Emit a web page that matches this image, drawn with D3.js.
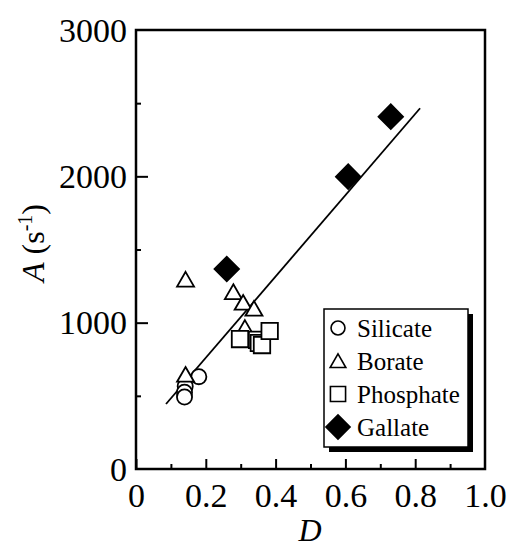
<!DOCTYPE html>
<html>
<head>
<meta charset="utf-8">
<script src="https://cdn.jsdelivr.net/npm/d3@7"></script>
<style>
  body { margin: 0; background: #fff; }
  svg { display: block; }
</style>
</head>
<body>
<div id="chart"></div>
<script>
// values: [D, A]
const silicate = [[0.18, 631], [0.141, 565], [0.139, 525], [0.139, 492]];
const borate = [[0.142, 1280], [0.279, 1195], [0.307, 1122], [0.338, 1081], [0.312, 950], [0.142, 630]];
const phosphate = [[0.298, 888], [0.347, 882], [0.352, 861], [0.361, 847], [0.383, 943]];
const gallate = [[0.26, 1367], [0.608, 1998], [0.73, 2408]];
const fitLine = [[0.086, 444], [0.814, 2465]];

const xTicks = [0, 0.2, 0.4, 0.6, 0.8, 1.0];
const xMinor = [0.1, 0.3, 0.5, 0.7, 0.9];
const yTicks = [0, 1000, 2000, 3000];
const yMinor = [500, 1500, 2500];
const legendNames = ["Silicate", "Borate", "Phosphate", "Gallate"];

const W = 509, H = 547;
const mLeft = 136, mRight = 485, mTop = 30, mBottom = 469;
const serif = "'Liberation Serif', 'DejaVu Serif', 'Times New Roman', Times, serif";

const svg = d3.select("#chart").append("svg")
  .attr("width", W)
  .attr("height", H)
  .style("font-family", serif);

const x = d3.scaleLinear().domain([0, 1]).range([mLeft, mRight]);
const y = d3.scaleLinear().domain([0, 3000]).range([mBottom, mTop]);

// axes (ticks pointing inward)
const gx = svg.append("g").attr("transform", `translate(0,${mBottom})`)
  .call(d3.axisBottom(x).tickValues(xTicks).tickSize(-10).tickPadding(14)
    .tickFormat(d => d === 0 ? "0" : d3.format(".1f")(d)));
svg.append("g").attr("transform", `translate(0,${mBottom})`)
  .call(d3.axisBottom(x).tickValues(xMinor).tickSize(-5).tickFormat(""));
const gy = svg.append("g").attr("transform", `translate(${mLeft},0)`)
  .call(d3.axisLeft(y).tickValues(yTicks).tickSize(-12).tickPadding(9).tickFormat(d3.format("d")));
svg.append("g").attr("transform", `translate(${mLeft},0)`)
  .call(d3.axisLeft(y).tickValues(yMinor).tickSize(-5).tickFormat(""));

svg.selectAll("g").attr("font-family", null).attr("font-size", null);
svg.selectAll(".domain").remove();
svg.selectAll(".tick line").attr("stroke", "#000").attr("stroke-width", 2);
svg.selectAll(".tick text").style("font-size", "34px").style("font-family", serif).attr("fill", "#000");
gx.selectAll(".tick text").attr("dy", "0.71em");
gy.selectAll(".tick text").attr("dy", "0.33em");
gx.selectAll(".tick").filter(d => d === 1).select("line").remove();
gy.selectAll(".tick").filter(d => d === 3000 || d === 0).select("line").remove();

// frame
svg.append("rect")
  .attr("x", mLeft).attr("y", mTop)
  .attr("width", mRight - mLeft).attr("height", mBottom - mTop)
  .attr("fill", "none").attr("stroke", "#000").attr("stroke-width", 2.5);

// axis titles
svg.append("text")
  .attr("x", 310).attr("y", 541)
  .attr("text-anchor", "middle")
  .style("font-family", serif).style("font-size", "32px").style("font-style", "italic")
  .text("D");

const yl = svg.append("text")
  .attr("transform", "translate(44,243) rotate(-90)")
  .attr("text-anchor", "middle")
  .style("font-family", serif).style("font-size", "32px");
yl.append("tspan").style("font-style", "italic").text("A");
yl.append("tspan").text(" (s");
yl.append("tspan").style("font-size", "20px").attr("dy", -12).text("-1");
yl.append("tspan").attr("dy", 12).text(")");

// fit line
svg.append("path")
  .datum(fitLine)
  .attr("d", d3.line().x(d => x(d[0])).y(d => y(d[1])))
  .attr("fill", "none").attr("stroke", "#000").attr("stroke-width", 1.8);

// markers
const styles = {
  Silicate: { type: d3.symbolCircle, size: 180, fill: "#fff", rot: 0 },
  Borate: { type: d3.symbolTriangle, size: 125, fill: "#fff", rot: 0 },
  Phosphate: { type: d3.symbolSquare, size: 270, fill: "#fff", rot: 0 },
  Gallate: { type: d3.symbolSquare, size: 300, fill: "#000", rot: 45 }
};

function drawSeries(data, name) {
  const s = styles[name];
  svg.append("g").selectAll("path")
    .data(data)
    .join("path")
    .attr("d", d3.symbol().type(s.type).size(s.size))
    .attr("transform", d => `translate(${x(d[0])},${y(d[1])}) rotate(${s.rot})`)
    .attr("fill", s.fill)
    .attr("stroke", "#000")
    .attr("stroke-width", 1.8);
}
drawSeries(silicate, "Silicate");
drawSeries(borate, "Borate");
drawSeries(phosphate, "Phosphate");
drawSeries(gallate, "Gallate");

// legend with drop shadow
const lg = svg.append("g");
lg.append("rect").attr("x", 329).attr("y", 314).attr("width", 144).attr("height", 138).attr("fill", "#000");
lg.append("rect").attr("x", 324).attr("y", 309).attr("width", 144).attr("height", 138)
  .attr("fill", "#fff").attr("stroke", "#000").attr("stroke-width", 1.5);

legendNames.forEach((name, i) => {
  const s = styles[name];
  const cy = 328 + i * 33;
  const sz = name === "Gallate" ? 290 : s.size * 0.85;
  lg.append("path")
    .attr("d", d3.symbol().type(s.type).size(sz))
    .attr("transform", `translate(338,${cy + (name === "Borate" ? 2 : 0)}) rotate(${s.rot})`)
    .attr("fill", s.fill)
    .attr("stroke", "#000")
    .attr("stroke-width", 1.6);
  lg.append("text")
    .attr("x", 357).attr("y", cy)
    .attr("dy", "0.35em")
    .style("font-family", serif).style("font-size", "25px")
    .text(name);
});
</script>
</body>
</html>
